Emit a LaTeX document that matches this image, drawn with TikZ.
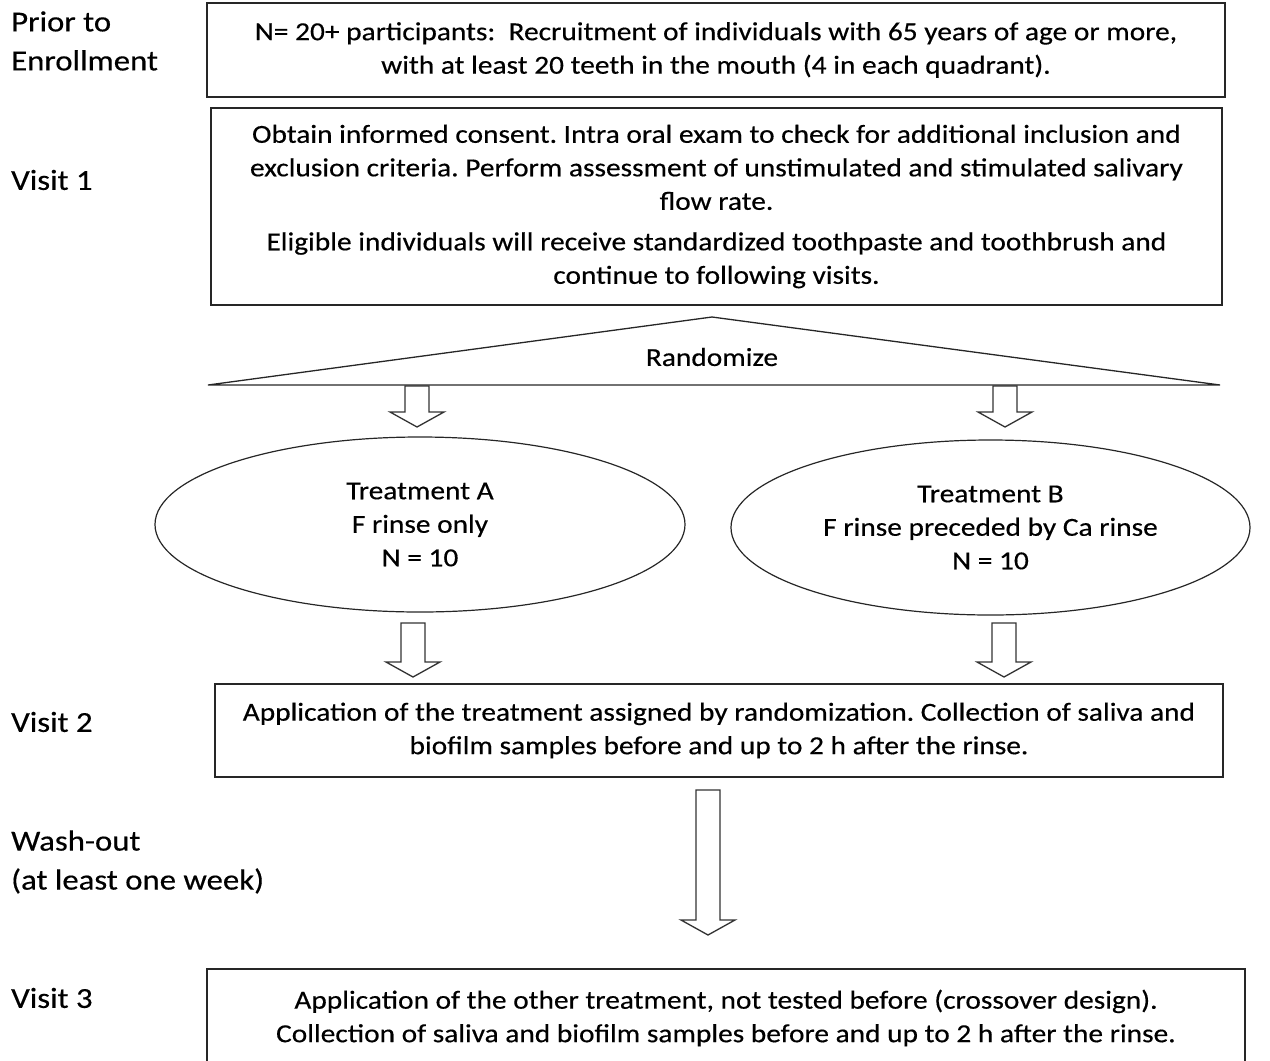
\documentclass[tikz,border=0pt]{standalone}
\usepackage{fontspec}
\setmainfont{Carlito}[FakeStretch=1.13,FakeBold=0.4]
\usetikzlibrary{shapes.geometric}
\frenchspacing

% hollow block arrow pointing down: x, top, tip
\newcommand{\hollowarrow}[3]{%
  \draw[blockarrow] (#1-12,#2) -- (#1+12,#2) -- (#1+12,#3-15) -- (#1+27,#3-15)
    -- (#1,#3) -- (#1-27,#3-15) -- (#1-12,#3-15) -- cycle;}

\begin{document}
\begin{tikzpicture}
  [x=1pt,y=-1pt,
   every node/.style={inner sep=0pt,font=\fontsize{26}{33.5}\selectfont},
   stepbox/.style={draw=black!85,line width=1.6pt,align=center},
   armbox/.style={ellipse,draw=black!85,line width=1.2pt,align=center},
   sidelabel/.style={anchor=west,align=left,font=\fontsize{29}{39}\selectfont},
   blockarrow/.style={draw=black!80,line width=1.3pt,fill=white,line join=miter}]
  \useasboundingbox (0,0) rectangle (1270,1061);
  \clip (0,0) rectangle (1270,1061);

  \node[sidelabel] (prior) at (11,41) {Prior to\\Enrollment};
  \node[sidelabel] (v1lbl) at (11,180) {Visit 1};
  \node[sidelabel] (v2lbl) at (11,722) {Visit 2};
  \node[sidelabel] (wash) at (11,862) {Wash-out\\(at least one week)};
  \node[sidelabel] (v3lbl) at (11,998) {Visit 3};

  \node[stepbox,minimum width=1018,minimum height=94] (recruit) at (716,50)
    {N= 20+ participants:\ \ Recruitment of individuals with 65 years of age or more,\\
     with at least 20 teeth in the mouth (4 in each quadrant).};
  \node[stepbox,minimum width=1011,minimum height=197] (visit1) at (716.5,206.5)
    {Obtain informed consent. Intra oral exam to check for additional inclusion and\\
     exclusion criteria. Perform assessment of unstimulated and stimulated salivary\\
     flow rate.\\[7pt]
     Eligible individuals will receive standardized toothpaste and toothbrush and\\
     continue to following visits.};

  \coordinate (apex) at (712,317);
  \coordinate (baseL) at (208,385);
  \coordinate (baseR) at (1220,385);
  \draw[draw=black!85,line width=1.3pt] (baseL) -- (apex) -- (baseR) -- cycle;
  \node (rand) at (712,357) {Randomize};

  \node[armbox,minimum width=530,minimum height=175] (trtA) at (420,524.5)
    {Treatment A\\F rinse only\\N = 10};
  \node[armbox,minimum width=519,minimum height=175] (trtB) at (990.5,527.5)
    {Treatment B\\F rinse preceded by Ca rinse\\N = 10};

  \node[stepbox,minimum width=1008,minimum height=93] (visit2) at (719,730.5)
    {Application of the treatment assigned by randomization. Collection of saliva and\\
     biofilm samples before and up to 2 h after the rinse.};
  \node[stepbox,minimum width=1038,minimum height=98] (visit3) at (726,1018)
    {Application of the other treatment, not tested before (crossover design).\\
     Collection of saliva and biofilm samples before and up to 2 h after the rinse.};

  \foreach \ax/\ya/\yb in {417/386/427, 1005/386/427, 413/623/677, 1004/623/677, 708/790/935}
    {\hollowarrow{\ax}{\ya}{\yb}}
\end{tikzpicture}
\end{document}
